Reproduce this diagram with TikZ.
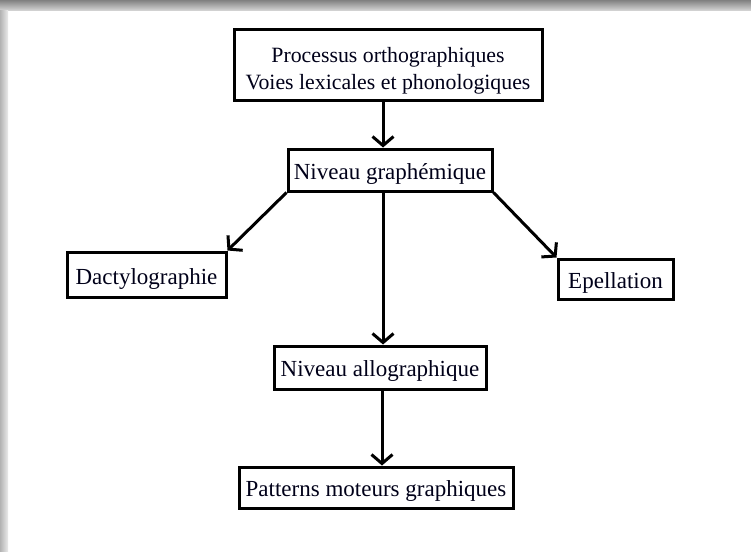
\documentclass[tikz,border=0pt]{standalone}
\usepackage{fontspec}
\setmainfont{Liberation Serif}
\usetikzlibrary{arrows.meta,calc}
\newcommand{\lowertext}[2]{\raisebox{-#1}[\height][\depth]{#2}}
\begin{document}
\begin{tikzpicture}[x=1pt,y=-1pt,
  box/.style={draw=black,line width=3pt,inner sep=0pt,align=center,fill=white,
    text=black!90!blue,font=\fontsize{23}{27}\selectfont},
  topbox/.style={box,font=\fontsize{21.8}{27}\selectfont},
  conn/.style={line width=3pt,-{Straight Barb[length=9pt,width=21pt]}}]
\useasboundingbox (0,0) rectangle (751,551);
\fill[white] (0,0) rectangle (751,551);
% page shadow
\shade[top color=black!50,bottom color=black!15] (0,0) rectangle (751,11);
\shade[left color=black!30,right color=black!8] (0,11) rectangle (8,551);
% nodes
\node[topbox,minimum width=308pt,minimum height=70pt] (t) at (388,65)
  {\lowertext{6pt}{\begin{tabular}{@{}c@{}}Processus orthographiques\\Voies lexicales et phonologiques\end{tabular}}};
\node[box,minimum width=204pt,minimum height=42pt] (g) at (390,170) {\lowertext{3.5pt}{Niveau graphémique}};
\node[box,minimum width=159pt,minimum height=45pt] (d) at (146.5,274.5) {\lowertext{4.5pt}{Dactylographie}};
\node[box,minimum width=115pt,minimum height=40pt] (e) at (615.5,279) {\lowertext{3.5pt}{Epellation}};
\node[box,minimum width=212pt,minimum height=43pt] (a) at (380,367.5) {\lowertext{3.5pt}{Niveau allographique}};
\node[box,minimum width=274pt,minimum height=41pt] (p) at (376,487.5) {\lowertext{3.5pt}{Patterns moteurs graphiques}};
% connectors
\coordinate (x1) at (383,0);
\coordinate (x2) at (382,0);
\draw[conn] (t.south -| x1) -- (g.north -| x1);
\draw[conn] (g.south west) -- (d.north east);
\draw[conn] (g.south east) -- (e.north west);
\draw[conn] (g.south -| x1) -- (a.north -| x1);
\draw[conn] (a.south -| x2) -- (p.north -| x2);
\end{tikzpicture}
\end{document}
